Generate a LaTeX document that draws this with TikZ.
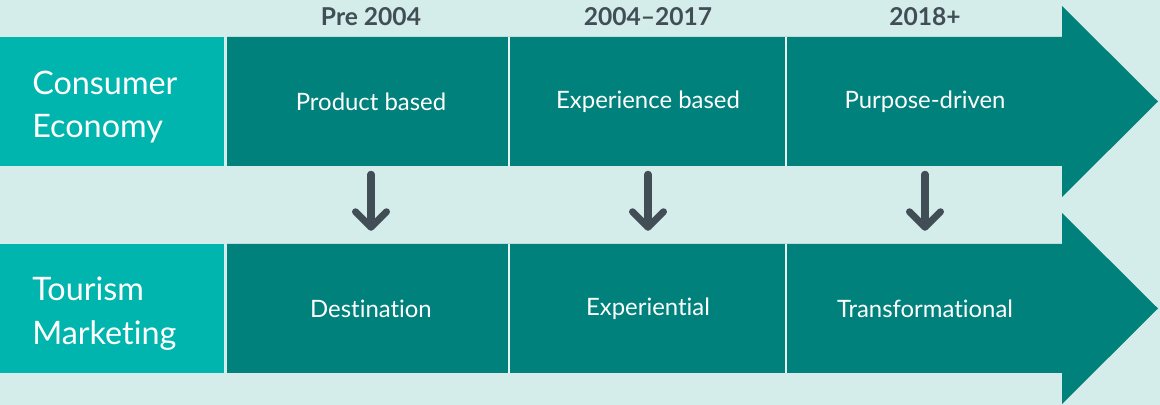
\documentclass[tikz,border=0pt]{standalone}
\usepackage{fontspec}
\setmainfont{Lato}[Ligatures=NoCommon]
\usetikzlibrary{arrows.meta,positioning}
\definecolor{bgmint}{HTML}{D4EDEA}
\definecolor{labelteal}{HTML}{00B5AD}
\definecolor{darkteal}{HTML}{00817B}
\definecolor{slate}{HTML}{424E56}
\definecolor{divider}{HTML}{E6F4F2}
\begin{document}
\begin{tikzpicture}
[x=0.025cm,y=-0.025cm,
  labeldecorate/.style={fill=labelteal,text=white,anchor=north west,
    text width=4cm,inner xsep=0.8cm,minimum height=3.225cm,align=left,
    font=\fontsize{23}{31}\selectfont},
  celldecorate/.style={text=white,minimum width=6.9cm,minimum height=3.225cm,
    inner sep=0pt,font=\fontsize{17}{20}\selectfont},
  yeardecorate/.style={text=slate,font=\fontsize{17.5}{20}\selectfont\bfseries},
  arrowdecorate/.style={-{Straight Barb[round,length=11pt,width=22pt]},
    draw=slate,line width=5pt,line cap=round,
    shorten <=5.7pt,shorten >=9.2pt},
  dividedecorate/.style={draw=divider,line width=1.4pt}]
%% background
\fill[bgmint] (0,0) rectangle (1160,405);
%% the two long arrows
\fill[darkteal] (227,37) -- (1062,37) -- (1062,6) -- (1158,101.5)
  -- (1062,197) -- (1062,166) -- (227,166) -- cycle;
\fill[darkteal] (227,244) -- (1062,244) -- (1062,213) -- (1158,308.5)
  -- (1062,404) -- (1062,373) -- (227,373) -- cycle;
%% row labels (the strut pushes the two lines a bit lower)
\node[labeldecorate] (consumer) at (0,37) {\rule{0pt}{24pt}Consumer\\Economy};
\node[labeldecorate] (tourism) at (0,244) {\rule{0pt}{24pt}Tourism\\Marketing};
%% cells
\foreach \nodename/\x/\y/\celltext in {prod/371/101.5/Product based,
  exper/648/101.5/Experience based, purp/925/101.5/Purpose-driven,
  dest/371/308.5/Destination, expl/648/308.5/Experiential,
  trans/925/308.5/Transformational} {
  \node[celldecorate] (\nodename) at (\x,\y) {\celltext};
}
%% dividers
\foreach \cellname in {prod, exper, dest, expl} {
  \draw[dividedecorate] (\cellname.north east) -- (\cellname.south east);
}
%% years
\node[yeardecorate] (yrone) at (371,17) {Pre 2004};
\node[yeardecorate] (yrtwo) at (648,17) {2004–2017};
\node[yeardecorate] (yrthree) at (925,17) {2018+};
%% down arrows
\foreach \startnode/\endnode in {prod/dest, exper/expl, purp/trans} {
  \draw[arrowdecorate] (\startnode.south) -- (\endnode.north);
}
\end{tikzpicture}
\end{document}
